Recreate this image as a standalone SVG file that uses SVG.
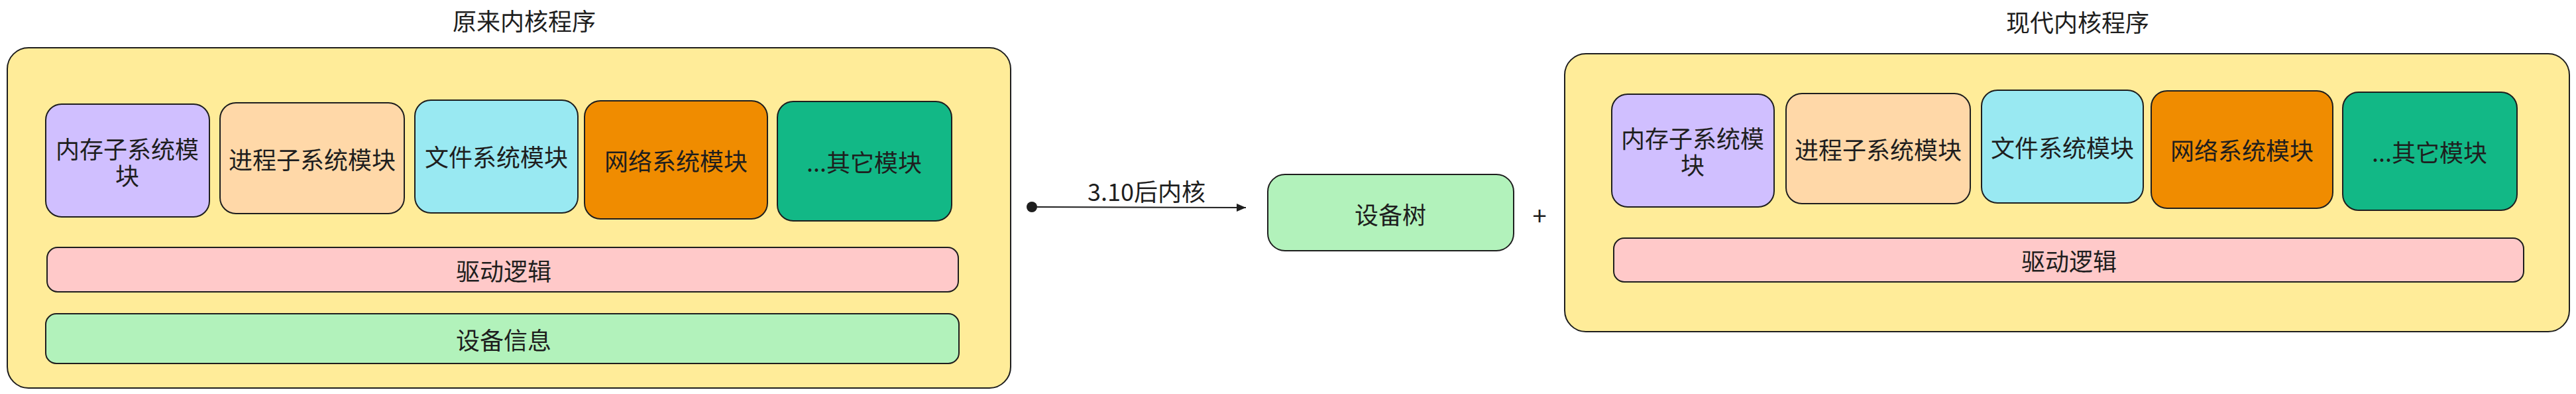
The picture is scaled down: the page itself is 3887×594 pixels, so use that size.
<svg xmlns="http://www.w3.org/2000/svg" width="3887" height="594" viewBox="0 0 3887 594">
<style>
  text { font-family: "Noto Sans CJK SC", "Noto Sans", sans-serif; fill: #1e1e1e; text-anchor: middle; dominant-baseline: central; }
  .t { font-size: 36px; }
  .box { stroke: #1e1e1e; stroke-width: 2; }
  .cont { fill: #ffec99; }
  .purple { fill: #d0bfff; }
  .peach { fill: #ffd8a8; }
  .cyan { fill: #99e9f2; }
  .orange { fill: #f08c00; }
  .green { fill: #12b886; }
  .pink { fill: #ffc9c9; }
  .lgreen { fill: #b2f2bb; }
</style>
<defs>
  <marker id="tri" viewBox="0 0 14 12" refX="14" refY="6" markerWidth="14" markerHeight="12" markerUnits="userSpaceOnUse" orient="auto">
    <path d="M0,0 L14,6 L0,12 Z" fill="#1e1e1e"/>
  </marker>
</defs>
<rect width="3887" height="594" fill="#ffffff"/>

<g id="title-left"><text class="t" x="791" y="30">原来内核程序</text></g>
<g id="title-right"><text class="t" x="3135" y="32">现代内核程序</text></g>

<g id="container-left"><rect class="box cont" x="11" y="72" width="1514" height="513" rx="32"/></g>
<g id="container-right"><rect class="box cont" x="2361" y="81" width="1516" height="419" rx="32"/></g>

<g id="l-mem"><rect class="box purple" x="69" y="157" width="247" height="170" rx="24"/>
  <text class="t"><tspan x="192" y="223">内存子系统模</tspan><tspan x="192" y="263">块</tspan></text></g>
<g id="l-proc"><rect class="box peach" x="332" y="155" width="278" height="167" rx="24"/>
  <text class="t" x="471" y="239">进程子系统模块</text></g>
<g id="l-fs"><rect class="box cyan" x="626" y="151" width="246" height="170" rx="24"/>
  <text class="t" x="749" y="235">文件系统模块</text></g>
<g id="l-net"><rect class="box orange" x="882" y="152" width="276" height="178" rx="24"/>
  <text class="t" x="1020" y="241">网络系统模块</text></g>
<g id="l-other"><rect class="box green" x="1173" y="153" width="263" height="180" rx="24"/>
  <text class="t" x="1304" y="243">...其它模块</text></g>
<g id="l-driver"><rect class="box pink" x="71" y="373" width="1375" height="67" rx="16"/>
  <text class="t" x="760" y="407">驱动逻辑</text></g>
<g id="l-devinfo"><rect class="box lgreen" x="69" y="473" width="1378" height="75" rx="16"/>
  <text class="t" x="760" y="511">设备信息</text></g>

<g id="devtree"><rect class="box lgreen" x="1913" y="263" width="371" height="115" rx="26"/>
  <text class="t" x="2098" y="322">设备树</text></g>
<g id="plus"><text style="font-size:38px" x="2323" y="323">+</text></g>

<g id="r-mem"><rect class="box purple" x="2432" y="142" width="245" height="170" rx="24"/>
  <text class="t"><tspan x="2554" y="207">内存子系统模</tspan><tspan x="2554" y="247">块</tspan></text></g>
<g id="r-proc"><rect class="box peach" x="2695" y="141" width="278" height="166" rx="24"/>
  <text class="t" x="2834" y="224">进程子系统模块</text></g>
<g id="r-fs"><rect class="box cyan" x="2990" y="136" width="244" height="170" rx="24"/>
  <text class="t" x="3112" y="221">文件系统模块</text></g>
<g id="r-net"><rect class="box orange" x="3246" y="137" width="274" height="177" rx="24"/>
  <text class="t" x="3383" y="225">网络系统模块</text></g>
<g id="r-other"><rect class="box green" x="3535" y="139" width="263" height="178" rx="24"/>
  <text class="t" x="3666" y="228">...其它模块</text></g>
<g id="r-driver"><rect class="box pink" x="2435" y="359" width="1373" height="66" rx="16"/>
  <text class="t" x="3122" y="392">驱动逻辑</text></g>

<g id="connectors">
  <circle cx="1557" cy="312" r="8" fill="#1e1e1e"/>
  <line x1="1557" y1="312" x2="1880" y2="313" stroke="#1e1e1e" stroke-width="2" marker-end="url(#tri)"/>
  <text class="t" x="1730" y="287">3.10后内核</text>
</g>
</svg>
